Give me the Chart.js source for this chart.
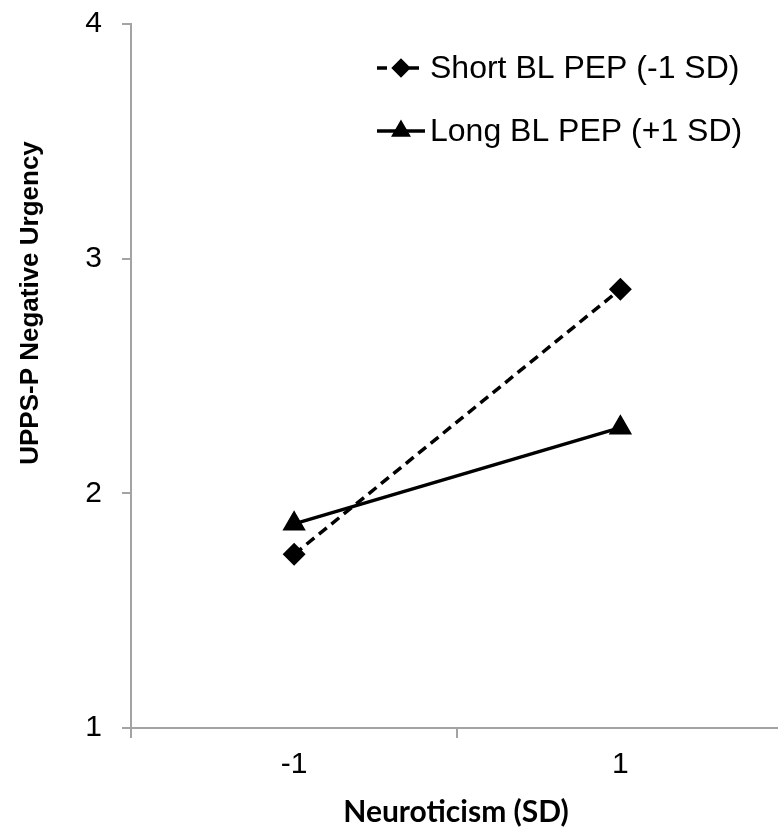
<!DOCTYPE html>
<html>
<head>
<meta charset="utf-8">
<script src="https://cdn.jsdelivr.net/npm/chart.js@4.4.1/dist/chart.umd.min.js"></script>
<style>
  html, body { margin: 0; padding: 0; background: #fff; overflow: hidden; }
  #wrap { width: 797px; height: 831px; }
</style>
</head>
<body>
<div id="wrap"><canvas id="c" width="797" height="831"></canvas></div>
<script>
// ---- data ----
const categories = ['-1', '1'];
const shortValues = [1.74, 2.87];
const longValues = [1.87, 2.28];
const seriesNames = ['Short BL PEP (-1 SD)', 'Long BL PEP (+1 SD)'];
const yTicks = [1, 2, 3, 4];
const xTitle = 'Neuroticism (SD)';
const yTitle = 'UPPS-P Negative Urgency';

const AXIS_GRAY = '#a3a3a3';
const TICK_FONT = { family: 'Liberation Sans, Arial, sans-serif', size: 30 };

const decorPlugin = {
  id: 'decor',
  afterDraw(chart) {
    const ctx = chart.ctx;
    ctx.save();
    // y title
    ctx.fillStyle = '#000';
    ctx.font = 'bold 26px "Liberation Sans", Arial, sans-serif';
    ctx.textAlign = 'center';
    ctx.textBaseline = 'middle';
    ctx.translate(31, 303);
    ctx.rotate(-Math.PI / 2);
    ctx.fillText(yTitle, 0, 0);
    ctx.restore();

    // x title
    ctx.save();
    ctx.fillStyle = '#000';
    ctx.font = 'bold 30px Lato, "Open Sans", sans-serif';
    ctx.textAlign = 'center';
    ctx.textBaseline = 'middle';
    ctx.fillText(xTitle, 456, 812);
    ctx.restore();

    // legend
    const rows = [68, 131];
    chart.data.datasets.forEach((ds, i) => {
      const y = rows[i];
      const x0 = 377, x1 = 425, xm = 401;
      ctx.save();
      ctx.strokeStyle = ds.borderColor;
      ctx.lineWidth = ds.borderWidth;
      ctx.setLineDash(ds.borderDash || []);
      ctx.beginPath();
      ctx.moveTo(x0, y);
      ctx.lineTo(x1, y);
      ctx.stroke();
      ctx.setLineDash([]);
      Chart.helpers.drawPoint(ctx, {
        pointStyle: ds.pointStyle,
        radius: ds.pointRadius * 0.8,
        rotation: 0,
        borderWidth: 1
      }, xm, y);
      ctx.fillStyle = ds.pointBackgroundColor;
      ctx.fill();
      ctx.fillStyle = '#000';
      ctx.font = '32px "Liberation Sans", Arial, sans-serif';
      ctx.textAlign = 'left';
      ctx.textBaseline = 'middle';
      ctx.fillText(ds.label, 430, y + 1);
      ctx.restore();
    });
  }
};

new Chart(document.getElementById('c'), {
  type: 'line',
  data: {
    labels: categories,
    datasets: [
      {
        label: seriesNames[0],
        data: shortValues,
        borderColor: '#000',
        borderWidth: 3.5,
        borderDash: [10, 6],
        pointStyle: 'rectRot',
        pointRadius: 9,
        pointBackgroundColor: '#000',
        pointBorderColor: '#000',
        fill: false,
        tension: 0
      },
      {
        label: seriesNames[1],
        data: longValues,
        borderColor: '#000',
        borderWidth: 3.5,
        pointStyle: 'triangle',
        pointRadius: 10,
        pointBackgroundColor: '#000',
        pointBorderColor: '#000',
        fill: false,
        tension: 0
      }
    ]
  },
  options: {
    responsive: false,
    animation: false,
    devicePixelRatio: 1,
    layout: { padding: { left: 0, right: 0, top: 24, bottom: 0 } },
    plugins: {
      legend: { display: false },
      tooltip: { enabled: false }
    },
    scales: {
      x: {
        type: 'category',
        offset: true,
        grid: {
          offset: true,
          drawOnChartArea: false,
          drawTicks: true,
          tickLength: 10,
          color: AXIS_GRAY,
          lineWidth: 2
        },
        border: { color: AXIS_GRAY, width: 2 },
        ticks: { color: '#000', font: TICK_FONT, padding: 9, maxRotation: 0 },
        afterFit(scale) {
          scale.height = 103;
          scale.paddingLeft = 0;
          scale.paddingRight = 0;
        }
      },
      y: {
        min: 1,
        max: 4,
        afterBuildTicks(scale) { scale.ticks = yTicks.map(v => ({ value: v })); },
        grid: {
          drawOnChartArea: false,
          drawTicks: true,
          tickLength: 9,
          color: AXIS_GRAY,
          lineWidth: 2
        },
        border: { color: AXIS_GRAY, width: 2 },
        ticks: { color: '#000', font: TICK_FONT, padding: 20 },
        afterFit(scale) {
          scale.width = 131;
          scale.paddingTop = 0;
          scale.paddingBottom = 0;
        }
      }
    }
  },
  plugins: [decorPlugin]
});
</script>
</body>
</html>
